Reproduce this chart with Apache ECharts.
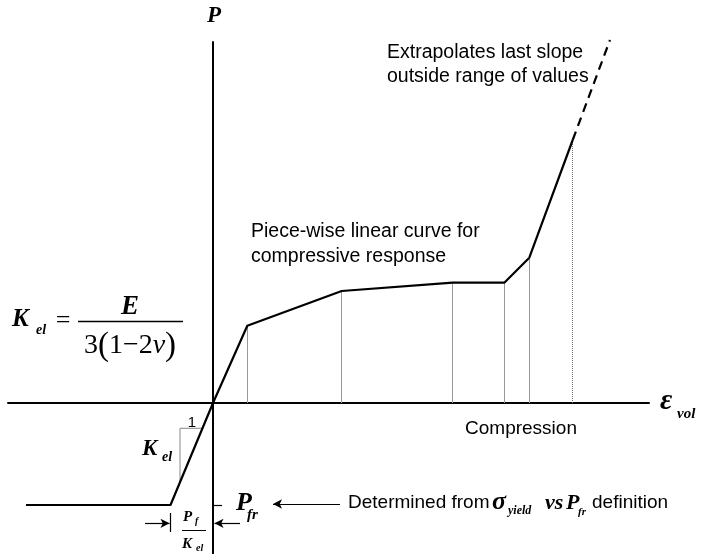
<!DOCTYPE html>
<html>
<head>
<meta charset="utf-8">
<script src="https://cdn.jsdelivr.net/npm/echarts@6/dist/echarts.min.js"></script>
<style>
  html, body { margin: 0; padding: 0; background: #fff; }
  #chart { width: 705px; height: 554px; }
</style>
</head>
<body>
<div id="chart"></div>
<script>
// Breakpoints of the pressure vs. volumetric strain curve (arbitrary units)
const strainPts   = [-18.7, -4.25, 0, 3.43, 12.87, 23.97, 29.13, 31.63, 35.97];
const pressurePts = [-10.2, -10.2, 0, 7.73, 11.2, 12.03, 12.03, 14.53, 26.3];
// Extrapolated last segment (dashed)
const extrapStrain   = [35.97, 39.7];
const extrapPressure = [26.3, 36.3];
// Unit-slope triangle on the elastic branch
const triStrain   = [-1.05, -3.3, -3.3];
const triPressure = [-2.53, -2.53, -7.92];
// Tension cut-off level and dimension-arrow level
const pFr = -10.2;
const dimLevel = -12.03;

const SERIF = '"Liberation Serif", "DejaVu Serif", serif';
const SANS = '"Liberation Sans", Arial, sans-serif';

const zip = (xs, ys) => xs.map((x, i) => [x, ys[i]]);

// vertical guide lines from the strain axis up to each breakpoint
const solidDrops = [];
for (let i = 3; i < strainPts.length - 1; i++) {
  solidDrops.push([{ coord: [strainPts[i], 0] }, { coord: [strainPts[i], pressurePts[i]] }]);
}
const last = strainPts.length - 1;
const dottedDrops = [[{ coord: [strainPts[last], 0] }, { coord: [strainPts[last], pressurePts[last]] }]];

const chart = echarts.init(document.getElementById('chart'));

const axisCommon = {
  type: 'value',
  axisLine: { show: true, onZero: true, lineStyle: { color: '#000', width: 2 } },
  axisTick: { show: false },
  axisLabel: { show: false },
  splitLine: { show: false }
};

function txt(text, x, y, font, align, extra) {
  return {
    type: 'text', silent: true,
    style: Object.assign({ text: text, x: x, y: y, font: font, fill: '#000',
      align: align || 'left', verticalAlign: 'middle' }, extra || {})
  };
}

const option = {
  animation: false,
  backgroundColor: '#fff',
  grid: { left: 8, right: 56, top: 42, bottom: 0 },
  xAxis: Object.assign({ min: -20.5, max: 43.6 }, axisCommon),
  yAxis: Object.assign({ min: -15.1, max: 36.1 }, axisCommon),
  series: [
    {
      name: 'curve', type: 'line', silent: true, showSymbol: false, z: 5,
      data: zip(strainPts, pressurePts),
      lineStyle: { color: '#000', width: 2.2 }
    },
    {
      name: 'extrapolation', type: 'line', silent: true, showSymbol: false, clip: false, z: 5,
      data: zip(extrapStrain, extrapPressure),
      lineStyle: { color: '#000', width: 2.2, type: [9, 6] }
    },
    {
      name: 'triangle', type: 'line', silent: true, showSymbol: false, z: 3,
      data: zip(triStrain, triPressure),
      lineStyle: { color: '#888', width: 1 }
    },
    {
      name: 'guides', type: 'line', silent: true, data: [], z: 2,
      markLine: {
        silent: true, symbol: 'none', animation: false,
        label: { show: false },
        lineStyle: { color: '#999', width: 1, type: 'solid' },
        data: solidDrops
      }
    },
    {
      name: 'guidesDotted', type: 'line', silent: true, data: [], z: 2,
      markLine: {
        silent: true, symbol: 'none', animation: false,
        label: { show: false },
        lineStyle: { color: '#777', width: 1, type: [1, 1] },
        data: dottedDrops
      }
    },
    {
      name: 'ticks', type: 'line', silent: true, data: [], z: 4,
      markLine: {
        silent: true, symbol: 'none', animation: false,
        label: { show: false },
        lineStyle: { color: '#000', width: 1.2, type: 'solid' },
        data: [
          [{ coord: [strainPts[1], -11.0] }, { coord: [strainPts[1], -12.9] }],
          [{ coord: [0, pFr] }, { coord: [0.9, pFr] }]
        ]
      }
    },
    {
      name: 'arrows', type: 'line', silent: true, data: [], z: 4,
      markLine: {
        silent: true, symbol: ['none', 'arrow'], symbolSize: [7, 9], animation: false,
        label: { show: false },
        lineStyle: { color: '#000', width: 1.2, type: 'solid' },
        data: [
          [{ coord: [-6.8, dimLevel] }, { coord: [-4.35, dimLevel] }],
          [{ coord: [2.7, dimLevel] }, { coord: [0.15, dimLevel] }],
          [{ coord: [12.7, pFr + 0.1] }, { coord: [6.0, pFr + 0.1] }]
        ]
      }
    }
  ],
  graphic: [
    // axis titles
    txt('P', 214, 16, 'bold italic 23px ' + SERIF, 'center'),
    txt('ε', 660, 401, 'bold italic 30px ' + SERIF, 'left'),
    txt('vol', 677, 414, 'bold italic 15px ' + SERIF, 'left'),
    // bulk modulus formula
    txt('K', 12, 320, 'bold italic 25px ' + SERIF, 'left'),
    txt('el', 36, 330, 'bold italic 14px ' + SERIF, 'left'),
    txt('=', 63, 321, '26px ' + SERIF, 'center'),
    txt('E', 130, 307, 'bold italic 27px ' + SERIF, 'center'),
    { type: 'line', silent: true, shape: { x1: 78, y1: 321.5, x2: 183, y2: 321.5 }, style: { stroke: '#000', lineWidth: 1.5 } },
    {
      type: 'text', silent: true,
      style: {
        text: '{n|3}{p|(}{n|1−2}{v|ν}{p|)}', x: 130, y: 346, align: 'center', verticalAlign: 'middle',
        rich: {
          n: { font: '28px ' + SERIF, fill: '#000' },
          v: { font: 'italic 28px ' + SERIF, fill: '#000' },
          p: { font: '33px ' + SERIF, fill: '#000' }
        }
      }
    },
    // slope triangle labels
    txt('1', 192, 423, '15px ' + SANS, 'center'),
    txt('K', 142, 449, 'bold italic 23px ' + SERIF, 'left'),
    txt('el', 162, 457, 'bold italic 14px ' + SERIF, 'left'),
    // P_fr / K_el width
    txt('P', 183, 517, 'bold italic 15px ' + SERIF, 'left'),
    txt('f', 195, 521, 'bold italic 10px ' + SERIF, 'left'),
    { type: 'line', silent: true, shape: { x1: 182, y1: 530.5, x2: 206, y2: 530.5 }, style: { stroke: '#000', lineWidth: 1 } },
    txt('K', 182, 544, 'bold italic 15px ' + SERIF, 'left'),
    txt('el', 196, 548, 'bold italic 10px ' + SERIF, 'left'),
    // P_fr label
    txt('P', 236, 503, 'bold italic 26px ' + SERIF, 'left'),
    txt('fr', 247, 515, 'bold italic 15px ' + SERIF, 'left'),
    // annotations
    txt('Determined from', 348, 503, '19px ' + SANS, 'left'),
    txt('σ', 492, 502, 'bold italic 26px ' + SERIF, 'left'),
    txt('yield', 508, 511, 'bold italic 12px ' + SERIF, 'left'),
    txt('vs', 545, 503, 'bold italic 22px ' + SERIF, 'left'),
    txt('P', 566, 503, 'bold italic 22px ' + SERIF, 'left'),
    txt('fr', 578, 512, 'bold italic 11px ' + SERIF, 'left'),
    txt('definition', 592, 503, '19px ' + SANS, 'left'),
    txt('Compression', 521, 429, '19px ' + SANS, 'center'),
    txt('Piece-wise linear curve for', 251, 232, '19.5px ' + SANS, 'left'),
    txt('compressive response', 251, 257, '19.5px ' + SANS, 'left'),
    txt('Extrapolates last slope', 387, 53, '19.5px ' + SANS, 'left'),
    txt('outside range of values', 387, 77, '19.5px ' + SANS, 'left')
  ]
};

chart.setOption(option);
</script>
</body>
</html>
